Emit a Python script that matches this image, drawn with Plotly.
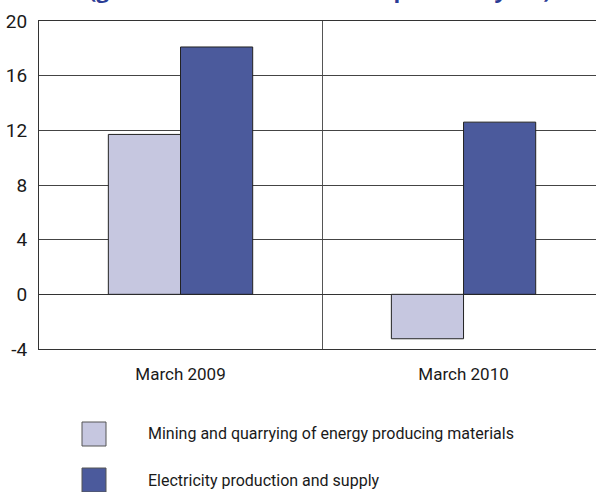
import plotly.graph_objects as go

categories = ["March 2009", "March 2010"]
series_names = ["Mining and quarrying of energy producing materials",
                "Electricity production and supply"]
mining = [11.7, -3.25]
electricity = [18.1, 12.6]
y_ticks = [-4, 0, 4, 8, 12, 16, 20]
y_ticktext = ["-4", "0", "4", "8", "12", "16", "20"]
title_text = "(growth rates in % over the previous year)"

colors = ["#C6C7E0", "#4B5A9C"]
FONT = "Roboto, sans-serif"

fig = go.Figure()
for name, vals, col in zip(series_names, [mining, electricity], colors):
    fig.add_trace(go.Bar(x=categories, y=vals, name=name, marker_color=col,
                         marker_line=dict(color="#222222", width=1), showlegend=False))

W, H = 596, 492
ml, mt, mb = 39, 21, 143
fig.update_layout(
    width=W, height=H, autosize=False,
    margin=dict(l=ml, r=0, t=mt, b=mb, pad=0),
    paper_bgcolor="white", plot_bgcolor="white",
    barmode="group", bargap=0.49, bargroupgap=0,
    font=dict(family=FONT, color="#222222"),
    xaxis=dict(range=[-0.5, 1.468], tickson="boundaries", showgrid=True,
               gridcolor="#555555", gridwidth=1, ticks="", showline=True,
               linecolor="#333333", linewidth=1, mirror=True,
               tickfont=dict(size=17, family=FONT, color="#1a1a1a"),
               ticklabelstandoff=10),
    yaxis=dict(range=[-4, 20], tickvals=y_ticks, ticktext=y_ticktext, showgrid=True,
               gridcolor="#444444", gridwidth=1, zeroline=True,
               zerolinecolor="#333333", zerolinewidth=1, ticks="",
               showline=True, linecolor="#333333", linewidth=1,
               tickfont=dict(size=19, family=FONT, color="#1a1a1a"),
               ticklabelstandoff=7),
)

plot_h = H - mt - mb
plot_w = W - ml
def px_to_paper(xp, yp):
    return (xp - ml) / plot_w, 1 - (yp - mt) / plot_h

# Title, cut off at the top edge as in the reference (only descenders visible)
tx0, ty0 = px_to_paper(88, 5)
fig.add_annotation(text="<b>" + title_text + "</b>", xref="paper", yref="paper",
                   x=tx0, y=ty0, xanchor="left", yanchor="bottom", showarrow=False,
                   borderpad=0,
                   font=dict(size=22, color="#2B3C95", family="Open Sans, sans-serif"))

# Custom legend with large swatches
legend_rows = [434, 480]
for name, col, yc in zip(series_names, colors, legend_rows):
    x0, y0 = px_to_paper(82, yc - 12)
    x1, y1 = px_to_paper(106, yc + 12)
    fig.add_shape(type="rect", xref="paper", yref="paper", x0=x0, x1=x1, y0=y1, y1=y0,
                  fillcolor=col, line=dict(color="#555555", width=1))
    tx, ty = px_to_paper(146, yc)
    fig.add_annotation(text=name, xref="paper", yref="paper", x=tx, y=ty,
                       xanchor="left", yanchor="middle", showarrow=False,
                       font=dict(size=16, family=FONT, color="#1a1a1a"))

fig.write_html("out.html", config={"displayModeBar": False},
               post_script="document.body.style.margin='0';")
